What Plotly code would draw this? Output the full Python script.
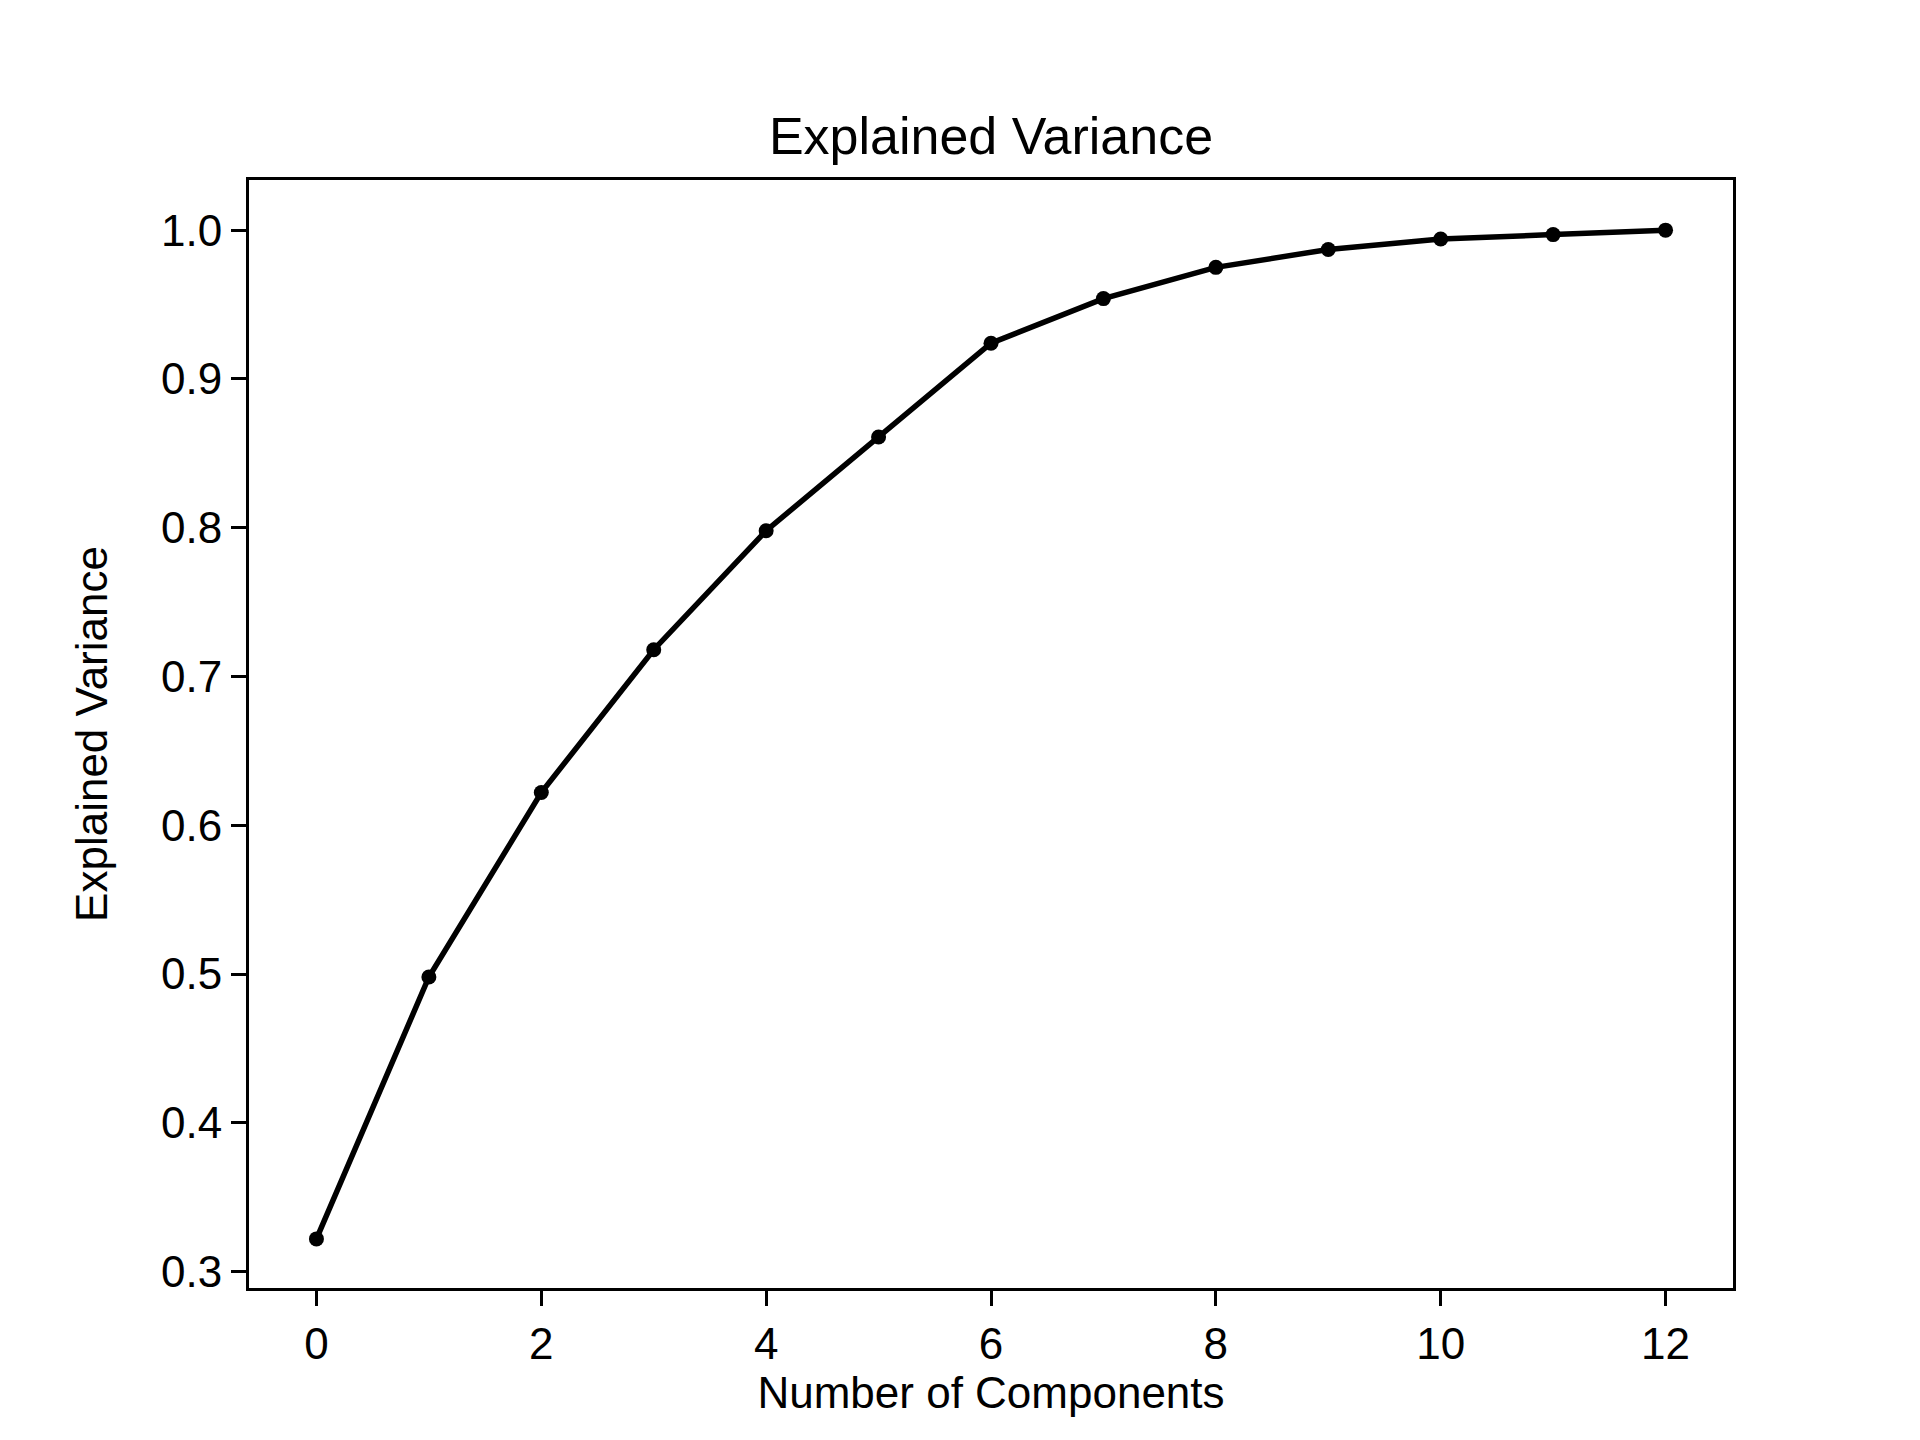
import plotly.graph_objects as go

# cumulative explained variance per component count
components = list(range(13))
explained = [0.322, 0.498, 0.622, 0.718, 0.798, 0.861, 0.924, 0.954, 0.975, 0.987, 0.994, 0.997, 1.0]

fig = go.Figure(go.Scatter(
    x=components, y=explained, mode="lines+markers",
    line=dict(color="black", width=5.5),
    marker=dict(color="black", size=15),
))

axis_style = dict(
    showline=True, mirror=True, linecolor="black", linewidth=3,
    ticks="outside", ticklen=15, tickwidth=3, tickcolor="black",
    showgrid=False, zeroline=False,
    tickfont=dict(size=44, color="black"),
)

fig.update_layout(
    width=1920, height=1440,
    paper_bgcolor="white", plot_bgcolor="white",
    font=dict(family="Liberation Sans, Arial, sans-serif", color="black"),
    margin=dict(l=241, r=195, t=172, b=160),
    showlegend=False,
    title=dict(text="Explained Variance", x=(241 + 1725) / 2 / 1920, xanchor="center",
               y=1 - 128 / 1440, yanchor="middle", font=dict(size=52)),
    xaxis=dict(axis_style, range=[-0.6, 12.6], tickvals=list(range(0, 13, 2)),
               title=dict(text="Number of Components", font=dict(size=44), standoff=2)),
    yaxis=dict(axis_style, range=[0.289, 1.0337], tickvals=[0.3, 0.4, 0.5, 0.6, 0.7, 0.8, 0.9, 1.0],
               tickformat=".1f",
               title=dict(text="Explained Variance", font=dict(size=44), standoff=40)),
)

fig.write_html("out.html")
